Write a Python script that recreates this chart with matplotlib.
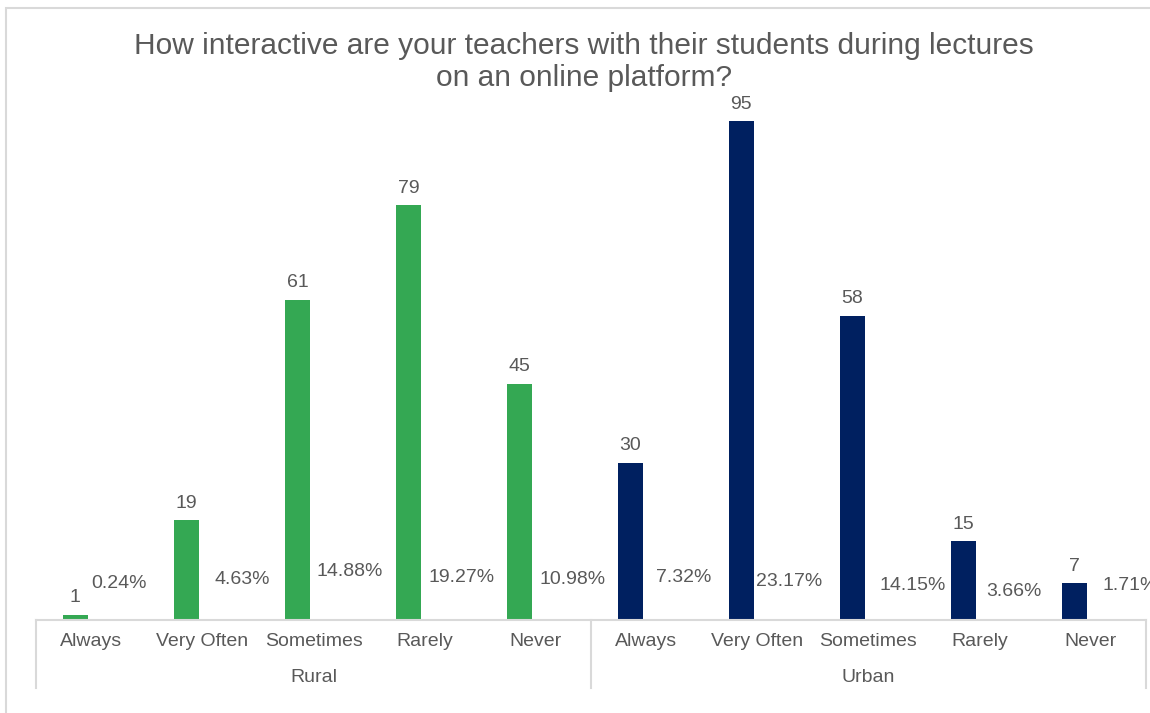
import matplotlib
matplotlib.use("Agg")
import matplotlib.pyplot as plt
from matplotlib.patches import Rectangle
from matplotlib.lines import Line2D

# ---- data ----
groups = ["Rural", "Urban"]
categories = ["Always", "Very Often", "Sometimes", "Rarely", "Never"]
counts_rural = [1, 19, 61, 79, 45]
counts_urban = [30, 95, 58, 15, 7]
pct_rural = [0.24, 4.63, 14.88, 19.27, 10.98]
pct_urban = [7.32, 23.17, 14.15, 3.66, 1.71]

# ---- style ----
GREEN = "#34A853"
NAVY = "#002060"
RED = "#EA4335"
TXT = "#595959"
GRID = "#D9D9D9"
FONT = "Liberation Sans"
plt.rcParams["font.family"] = [FONT, "DejaVu Sans"]

W, H = 1150, 713
fig = plt.figure(figsize=(W / 100, H / 100), dpi=100)

# chart border
fig.add_artist(Rectangle((6 / W, -0.1), 1.2, (H - 8) / H + 0.1, transform=fig.transFigure,
                         fill=False, edgecolor=GRID, linewidth=1.5))

ax = fig.add_axes([36 / W, (H - 620) / H, 1110 / W, 525 / H])
ax.set_xlim(0, 10)
ax.set_ylim(0, 100)
ax.axis("off")

counts = counts_rural + counts_urban
pcts = pct_rural + pct_urban
bar_colors = [GREEN] * 5 + [NAVY] * 5
pct_colors = ["none"] * 6 + [RED] + ["none"] * 3
labels = categories * 2

bw = 0.225
off = 0.145
# label nudges (pixels) to mimic manually placed data labels
pct_dx = [28, 40, 36, 37, 37, 37, 32, 44, 34, 40]
pct_dy = [37, 40, 48, 43, 40, 42, 38, 35, 29, 34]

xs = [i + 0.5 for i in range(10)]
ax.bar([x - off for x in xs], counts, width=bw, color=bar_colors, zorder=2)
ax.bar([x + off for x in xs], [p / 100 for p in pcts], width=bw, color=pct_colors, zorder=2)

FS = 14
for x, c in zip(xs, counts):
    ax.annotate(str(c), (x - off, c), xytext=(0, 6), textcoords="offset points",
                ha="center", va="bottom", fontsize=FS, color=TXT)

px2pt = 72 / 100
for x, p, dx, dy in zip(xs, pcts, pct_dx, pct_dy):
    ax.annotate(f"{p:.2f}%", (x, 0), xytext=(dx * px2pt, dy * px2pt), textcoords="offset points",
                ha="center", va="center", fontsize=FS, color=TXT)

tr = ax.get_xaxis_transform()
# axis line and separators
ax.add_line(Line2D([0, 10], [0, 0], transform=tr, color=GRID, lw=1.5, clip_on=False, zorder=3))
for xv in [0, 5, 10]:
    ax.add_line(Line2D([xv, xv], [0, -68 / 525], transform=tr, color=GRID, lw=1.5, clip_on=False))

for x, lab in zip(xs, labels):
    ax.text(x, -21 / 525, lab, transform=tr, ha="center", va="center", fontsize=FS, color=TXT)
for gi, g in enumerate(groups):
    ax.text(gi * 5 + 2.5, -57 / 525, g, transform=tr, ha="center", va="center", fontsize=FS, color=TXT)

fig.text(584 / W, 1 - 62 / H,
         "How interactive are your teachers with their students during lectures\non an online platform?",
         ha="center", va="center", fontsize=21.5, color=TXT, linespacing=1.15)

fig.savefig("out.png", dpi=100)
